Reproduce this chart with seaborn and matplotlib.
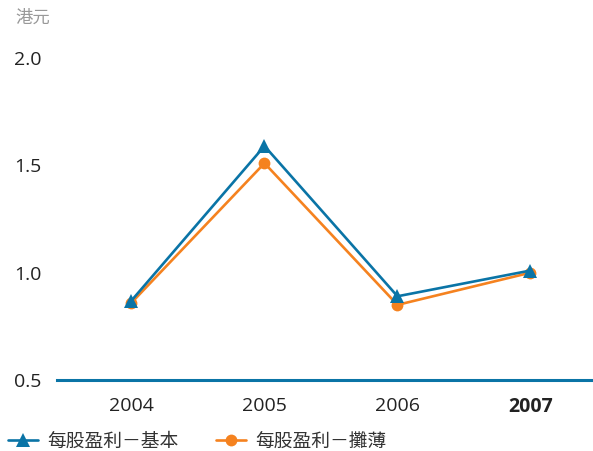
import matplotlib
matplotlib.use("Agg")
import matplotlib.pyplot as plt
import seaborn as sns
import pandas as pd
from matplotlib.lines import Line2D

years = ["2004", "2005", "2006", "2007"]
basic = [0.87, 1.59, 0.89, 1.01]
diluted = [0.86, 1.51, 0.85, 1.00]
series_names = ["每股盈利－基本", "每股盈利－攤薄"]
yticks = [0.5, 1.0, 1.5, 2.0]
unit_label = "港元"

sns.set_theme(style="white")
plt.rcParams['font.family'] = ['Open Sans', 'Noto Sans CJK TC', 'DejaVu Sans']

blue = "#0a74a6"
orange = "#f5821f"

df = pd.DataFrame({
    "x": list(range(len(years))) * 2,
    "value": basic + diluted,
    "series": [series_names[0]] * len(years) + [series_names[1]] * len(years),
})

fig = plt.figure(figsize=(5.93, 4.51), dpi=100)
ax = fig.add_axes([57/593, 1 - 380/451, (593-57)/593, (380-58)/451])

sns.lineplot(data=df[df.series == series_names[1]], x="x", y="value", ax=ax,
             color=orange, marker="o", markersize=8.5, markeredgewidth=0,
             linewidth=1.9, legend=False, zorder=3)
sns.lineplot(data=df[df.series == series_names[0]], x="x", y="value", ax=ax,
             color=blue, marker="^", markersize=9.5, markeredgewidth=0,
             linewidth=1.9, legend=False, zorder=4)

ax.set_xlim(-0.56, 3.47)
ax.set_ylim(0.5, 2.0)
ax.set_yticks(yticks)
ax.set_yticklabels([f"{v:.1f}" for v in yticks])
ax.set_xticks(range(len(years)))
ax.set_xticklabels(years)
ax.set_xlabel("")
ax.set_ylabel("")
for lbl in ax.get_xticklabels():
    if lbl.get_text() == "2007":
        lbl.set_fontweight("bold")
ax.tick_params(axis="both", length=0, labelsize=14, colors="#222222")
ax.tick_params(axis="y", pad=11)
ax.tick_params(axis="x", pad=12)
for s in ["top", "right", "left"]:
    ax.spines[s].set_visible(False)
ax.spines["bottom"].set_color(blue)
ax.spines["bottom"].set_linewidth(2.2)
ax.spines["bottom"].set_clip_on(False)
ax.grid(False)

fig.text(15/593, 1 - 19/451, unit_label, fontsize=12.5, color="#999999", va="center", ha="left")

handles = [
    Line2D([], [], color=blue, marker="^", markersize=9.5, markeredgewidth=0, linewidth=1.9),
    Line2D([], [], color=orange, marker="o", markersize=8.5, markeredgewidth=0, linewidth=1.9),
]
fig.legend(handles, series_names, loc="center left", bbox_to_anchor=(8/593, 1 - 442/451),
           ncol=2, frameon=False, fontsize=13.5, handlelength=1.6, handletextpad=0.5,
           columnspacing=2.0, labelcolor="#333333", borderaxespad=0, borderpad=0)

fig.savefig("out.png", dpi=100)
